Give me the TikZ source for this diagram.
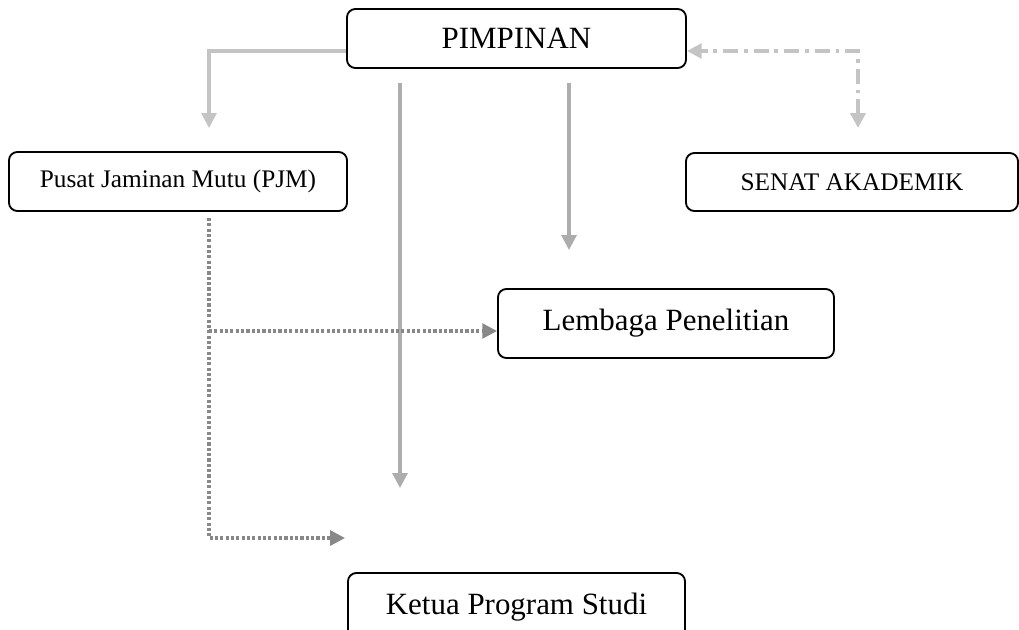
\documentclass[tikz,border=0pt]{standalone}
\usepackage{fontspec}
\setmainfont{Liberation Serif}
\usetikzlibrary{arrows.meta,calc}

\definecolor{solidgray}{HTML}{ADADAD}
\definecolor{lightgray}{HTML}{C4C4C4}
\definecolor{dotgray}{HTML}{888888}

\begin{document}
\begin{tikzpicture}[x=0.025cm,y=-0.025cm,
  box/.style={draw,line width=1.3pt,rounded corners=6pt,inner sep=0pt},
  bigtext/.style={font=\fontsize{22}{26}\selectfont},
  smalltext/.style={font=\fontsize{18}{22}\selectfont},
  tip/.style={-{Triangle[length=10.5pt,width=10.5pt]}},
  solidarrow/.style={tip,line width=2.2pt,draw=solidgray},
  dotarrow/.style={tip,line width=2.3pt,draw=dotgray,dash pattern=on 2.2pt off 1.6pt},
  dashdotarrow/.style={{Triangle[length=10.5pt,width=10.5pt]}-{Triangle[length=10.5pt,width=10.5pt]},
    line width=2.6pt,draw=lightgray,dash pattern=on 10.5pt off 4.2pt on 2.8pt off 4.2pt}]
\useasboundingbox (0,0) rectangle (1019,630);
\clip (0,0) rectangle (1019,630);

% Boxes
\node[box,bigtext,minimum width=8.475cm,minimum height=1.475cm] (pimpinan) at (516.5,38.5) {PIMPINAN};
\node[box,smalltext,minimum width=8.45cm,minimum height=1.475cm] (pjm) at (178,181.5) {Pusat Jaminan Mutu (PJM)};
\node[box,smalltext,minimum width=8.3cm,minimum height=1.45cm] (senat) at (852,182) {SENAT AKADEMIK};
\node[box,bigtext,minimum width=8.4cm,minimum height=1.725cm] (lembaga) at (666,323.5) {Lembaga Penelitian};
\node[box,bigtext,minimum width=8.425cm,minimum height=1.725cm] (ketua) at (516.5,607.5) {Ketua Program Studi};

% Arrows from PIMPINAN
\coordinate (pjmtop) at (209,128);
\draw[solidarrow,draw=lightgray] ($(pimpinan.west)+(0,12.5)$) -| (pjmtop);

\coordinate (kiritop) at (400,83);
\coordinate (kiribawah) at (400,488);
\draw[solidarrow] (kiritop) -- (kiribawah);

\coordinate (kanantop) at (569,83);
\coordinate (kananbawah) at (569,250);
\draw[solidarrow] (kanantop) -- (kananbawah);

% PIMPINAN <-> SENAT
\coordinate (senattop) at (858,128);
\draw[dashdotarrow] (senattop) |- ($(pimpinan.east)+(0,12.5)$);

% Dotted lines from PJM
\coordinate (pjmbawah) at (209,218);
\coordinate (ketuakiri) at (345,538);
\draw[dotarrow] (pjmbawah) |- (ketuakiri);
\coordinate (lembagain) at ($(lembaga.west)+(0,7.5)$);
\draw[dotarrow] (pjmbawah |- lembagain) -- (lembagain);
\end{tikzpicture}
\end{document}
